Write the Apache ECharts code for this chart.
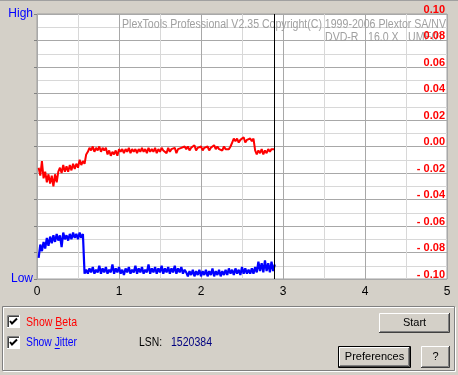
<!DOCTYPE html>
<html><head><meta charset="utf-8">
<script src="https://cdn.jsdelivr.net/npm/echarts@6/dist/echarts.min.js"></script>
<style>html,body{margin:0;padding:0;background:#d4d0c8}#c{width:458px;height:375px}</style>
</head><body><div id="c"></div>
<script>
// ---- data ----
const sampleStart = 0.02;   // GB, first sample position
const sampleStep = 0.02;    // GB between samples
const betaValues = [
 -0.016,-0.022,-0.011,-0.024,-0.019,-0.027,-0.021,-0.028,-0.022,-0.030,
 -0.021,-0.027,-0.019,-0.016,-0.020,-0.014,-0.019,-0.015,-0.019,-0.014,
 -0.018,-0.013,-0.017,-0.013,-0.016,-0.010,-0.014,-0.011,-0.013,-0.006,
 -0.004,-0.001,-0.003,0.000,-0.004,-0.001,-0.003,0.000,-0.004,-0.001,
 -0.003,-0.001,-0.006,-0.003,-0.007,-0.004,-0.006,-0.003,-0.007,-0.002,
 -0.004,-0.002,-0.005,-0.002,-0.004,-0.001,-0.005,-0.002,-0.004,-0.002,
 -0.005,-0.002,-0.004,-0.001,-0.004,-0.002,-0.005,-0.001,-0.004,-0.002,
 -0.004,-0.001,-0.005,-0.002,-0.004,-0.001,-0.003,-0.002,-0.005,-0.001,
 -0.004,-0.002,-0.003,-0.001,-0.005,-0.002,-0.003,-0.001,-0.002,0.000,
 -0.002,0.000,-0.003,-0.001,-0.002,0.001,-0.003,-0.001,-0.002,0.000,
 -0.003,-0.001,-0.002,0.000,-0.003,-0.001,-0.002,0.001,-0.002,0.000,
 -0.002,-0.001,-0.003,0.000,-0.002,-0.001,-0.002,0.000,0.003,0.006,
 0.004,0.006,0.003,0.005,0.004,0.007,0.003,0.005,0.004,0.006,
 0.004,0.006,-0.003,-0.006,-0.003,-0.005,-0.002,-0.006,-0.003,-0.005,
 -0.002,-0.004,-0.002,-0.003,-0.002
];
const jitterValues = [
 1.6,2.6,2.1,2.8,2.3,3.1,2.5,3.2,2.7,3.3,
 2.8,3.4,2.9,3.3,2.4,3.5,3.0,3.3,2.9,3.4,
 3.0,3.5,3.1,3.4,3.0,3.5,3.1,3.4,0.4,0.7,
 0.4,0.8,0.5,0.9,0.4,0.7,0.5,1.0,0.4,0.8,
 0.5,0.9,0.4,0.7,0.5,1.1,0.4,0.8,0.5,0.9,
 0.4,0.7,0.3,0.8,0.5,0.9,0.4,0.7,0.5,1.0,
 0.4,0.8,0.5,0.9,0.4,0.7,0.5,1.1,0.4,0.8,
 0.5,0.9,0.4,0.8,0.5,1.0,0.4,0.8,0.5,0.9,
 0.4,0.8,0.5,1.0,0.4,0.8,0.5,0.9,0.4,0.7,
 0.5,0.2,0.6,0.3,0.7,0.2,0.6,0.3,0.7,0.2,
 0.6,0.3,0.7,0.2,0.6,0.3,0.8,0.2,0.6,0.3,
 0.7,0.2,0.6,0.3,0.7,0.3,0.8,0.4,0.7,0.3,
 0.8,0.4,0.7,0.3,0.9,0.4,0.8,0.4,0.7,0.4,
 0.8,0.4,0.9,0.5,1.3,0.6,1.2,0.5,1.4,0.6,
 1.2,0.5,1.3,0.6,1.1
];
const cursorPosition = [2.89];          // black vertical marker (GB)
const xRange = [0, 5];                  // GB
const betaRange = [-0.10, 0.10];
const jitterRange = [0, 20];
const titleLines = ["PlexTools Professional V2.35 Copyright(C) 1999-2006 Plextor SA/NV"];
const discInfo = ["DVD-R", "16.0 X", "UME01"];
const lsnValue = "1520384";

// ---- build ----
const SANS = "'Liberation Sans',Arial,sans-serif";
const betaData = betaValues.map((v, i) => [sampleStart + i * sampleStep, v]);
const jitterData = jitterValues.map((v, i) => [sampleStart + i * sampleStep, v]);

const mctx = document.createElement('canvas').getContext('2d');
function tw(t, font) { mctx.font = font; return mctx.measureText(t).width; }

function button(x, y, w, h, label, isDefault) {
  const els = [{type:'rect', shape:{x:x, y:y, width:w, height:h}, style:{fill:'#d4d0c8'}, z:10}];
  if (isDefault) {
    els.push({type:'rect', shape:{x:x+0.5, y:y+0.5, width:w-1, height:h-1}, style:{fill:null, stroke:'#000', lineWidth:1}, z:11});
    x += 1; y += 1; w -= 2; h -= 2;
  }
  els.push({type:'polyline', shape:{points:[[x+0.5,y+h-1],[x+0.5,y+0.5],[x+w-1,y+0.5]]}, style:{stroke:'#fff', fill:null, lineWidth:1}, z:11});
  els.push({type:'polyline', shape:{points:[[x,y+h-0.5],[x+w-0.5,y+h-0.5],[x+w-0.5,y]]}, style:{stroke:'#404040', fill:null, lineWidth:1}, z:11});
  els.push({type:'polyline', shape:{points:[[x+1,y+h-1.5],[x+w-1.5,y+h-1.5],[x+w-1.5,y+1]]}, style:{stroke:'#808080', fill:null, lineWidth:1}, z:11});
  els.push({type:'text', style:{x:x+w/2, y:y+h/2, text:label, fill:'#000', font:'11px ' + SANS, textAlign:'center', textVerticalAlign:'middle'}, z:12});
  return els;
}
function checkbox(x, y) {
  return [
    {type:'rect', shape:{x:x, y:y, width:13, height:13}, style:{fill:'#fff'}, z:10},
    {type:'polyline', shape:{points:[[x+0.5,y+13],[x+0.5,y+0.5],[x+13,y+0.5]]}, style:{stroke:'#808080', fill:null}, z:11},
    {type:'polyline', shape:{points:[[x+1.5,y+12],[x+1.5,y+1.5],[x+12,y+1.5]]}, style:{stroke:'#404040', fill:null}, z:11},
    {type:'polyline', shape:{points:[[x,y+12.5],[x+12.5,y+12.5],[x+12.5,y]]}, style:{stroke:'#fff', fill:null}, z:11},
    {type:'polyline', shape:{points:[[x+3,y+6],[x+5,y+8.5],[x+10,y+3.5]]}, style:{stroke:'#000', fill:null, lineWidth:2}, z:12}
  ];
}
function fitText(x, y, text, color, font, width, align) {
  const s = width / tw(text, font);
  return {type:'text', x:x, y:y, scaleX:s, style:{x:0, y:0, text:text, fill:color, font:font, textAlign:align || 'left', textVerticalAlign:'middle'}, z:12};
}
function underlinedLabel(x, y, pre, key, post, color, width) {
  const font = '12px ' + SANS;
  const full = pre + key + post;
  const s = width / tw(full, font);
  const w0 = tw(pre, font) * s, w1 = tw(key, font) * s;
  return [
    fitText(x, y, full, color, font, width),
    {type:'line', shape:{x1:x + w0, y1:y + 5.5, x2:x + w0 + w1, y2:y + 5.5}, style:{stroke:color, lineWidth:1}, z:12}
  ];
}

const titleFont = '12px ' + SANS;
const titleScale = 324 / tw(titleLines[0], titleFont);
function grayText(x, y, t) {
  return {type:'text', x:x, y:y, scaleX:titleScale, style:{x:0, y:0, text:t, fill:'#a0a0a0', font:titleFont, textAlign:'left', textVerticalAlign:'middle'}, z:1};
}
let graphics = [
  {type:'line', shape:{x1:0, y1:0.5, x2:458, y2:0.5}, style:{stroke:'#a0a0a0'}, z:10},
  grayText(122, 25, titleLines[0]),
  grayText(325, 38, discInfo[0]),
  grayText(368, 38, discInfo[1]),
  grayText(408, 38, discInfo[2]),
  // groove panel
  {type:'rect', shape:{x:2.5, y:306.5, width:452, height:64}, style:{fill:null, stroke:'#808080'}, z:10},
  {type:'rect', shape:{x:3.5, y:307.5, width:452, height:64}, style:{fill:null, stroke:'#ffffff'}, z:9},
  fitText(139, 343, 'LSN:', '#000', '12px ' + SANS, 23),
  fitText(171, 343, lsnValue, '#000080', '12px ' + SANS, 41)
];
graphics = graphics.concat(checkbox(7, 315), checkbox(7, 336),
  underlinedLabel(26, 323, 'Show ', 'B', 'eta', '#ff0000', 51),
  underlinedLabel(26, 343, 'Show ', 'J', 'itter', '#0000ff', 51),
  button(379, 313, 71, 20, 'Start', false),
  button(338, 346, 73, 22, 'Preferences', true),
  button(421, 346, 29, 22, '?', false));

const chart = echarts.init(document.getElementById('c'), null, {renderer:'canvas'});
chart.setOption({
  animation: false,
  backgroundColor: '#d4d0c8',
  grid: {left:37, top:14, width:410, height:265, show:true, backgroundColor:'#ffffff', borderColor:'#a0a0a0', borderWidth:1, containLabel:false},
  xAxis: {
    type:'value', min:xRange[0], max:xRange[1], interval:1,
    axisLine:{show:false}, axisTick:{show:false},
    splitLine:{show:true, lineStyle:{color:'#a8a8a8', width:1}},
    minorTick:{show:false, splitNumber:2},
    minorSplitLine:{show:true, lineStyle:{color:'#d8d8d8', width:1}},
    axisLabel:{color:'#000', fontFamily:SANS, fontSize:12, margin:7}
  },
  yAxis: [
    {
      type:'value', position:'left', min:jitterRange[0], max:jitterRange[1], interval:2,
      axisLine:{show:false},
      axisTick:{show:true, length:3, lineStyle:{color:'#808080'}},
      splitLine:{show:true, lineStyle:{color:'#a8a8a8', width:1}},
      minorTick:{show:false, splitNumber:2},
      minorSplitLine:{show:true, lineStyle:{color:'#d8d8d8', width:1}},
      axisLabel:{color:'#0000ff', fontFamily:SANS, fontSize:12, margin:4, showMinLabel:true, showMaxLabel:true,
        formatter: v => v === jitterRange[1] ? 'High' : (v === jitterRange[0] ? 'Low' : '')}
    },
    {
      type:'value', position:'right', min:betaRange[0], max:betaRange[1], interval:0.02, z:5,
      axisLine:{show:false}, axisTick:{show:false}, splitLine:{show:false},
      axisLabel:{inside:true, margin:2, color:'#ff0000', fontFamily:SANS, fontWeight:'bold', fontSize:11, verticalAlign:'bottom', lineHeight:9,
        showMinLabel:true, showMaxLabel:true,
        formatter: v => Math.abs(v) < 1e-9 ? '0.00' : (v < 0 ? '- ' + Math.abs(v).toFixed(2) : v.toFixed(2))}
    }
  ],
  series: [
    {type:'line', name:'Beta', yAxisIndex:1, data:betaData, showSymbol:false, symbol:'none',
     lineStyle:{color:'#ff0000', width:2}, z:3,
     markLine:{silent:true, symbol:'none', label:{show:false}, lineStyle:{color:'#000', width:1, type:'solid'},
       data: cursorPosition.map(x => ({xAxis:x}))}},
    {type:'line', name:'Jitter', yAxisIndex:0, data:jitterData, showSymbol:false, symbol:'none',
     lineStyle:{color:'#0000ff', width:2.2}, z:3}
  ],
  graphic: {elements: graphics}
});
</script></body></html>
